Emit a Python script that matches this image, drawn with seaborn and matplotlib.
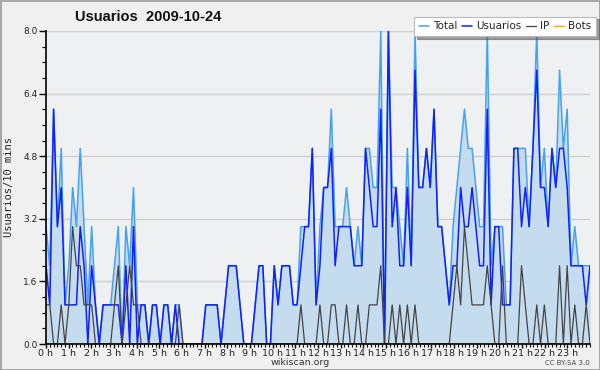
import numpy as np
import pandas as pd
import matplotlib
matplotlib.use("Agg")
import matplotlib.pyplot as plt
import seaborn as sns
from matplotlib.ticker import MultipleLocator, FixedLocator, FormatStrFormatter

# ---- data (values per 10 minutes, 144 slots) ----
usuarios = [2, 1, 6, 3, 4, 1, 1, 1, 1, 3,
            2, 0, 2, 1, 0, 1, 1, 1, 1, 1,
            0, 2, 0, 3, 0, 1, 1, 0, 1, 1,
            0, 1, 1, 0, 1, 0, 0, 0, 0, 0,
            0, 0, 1, 1, 1, 1, 0, 1, 2, 2,
            2, 1, 0, 0, 0, 1, 2, 2, 0, 0,
            2, 1, 2, 2, 2, 1, 1, 2, 3, 3,
            5, 1, 2, 4, 4, 5, 2, 3, 3, 3,
            3, 2, 2, 2, 5, 4, 3, 3, 6, 0,
            8, 3, 4, 2, 2, 4, 2, 7, 4, 4,
            5, 4, 6, 3, 3, 2, 1, 2, 2, 4,
            3, 3, 4, 3, 2, 2, 6, 1, 3, 3,
            1, 1, 1, 5, 5, 3, 4, 3, 5, 7,
            4, 4, 3, 5, 4, 5, 5, 4, 2, 2,
            2, 2, 1, 2]
ip = [1, 1, 0, 0, 1, 0, 1, 3, 2, 2,
      1, 1, 1, 0, 0, 0, 0, 0, 1, 2,
      0, 1, 2, 1, 1, 0, 0, 0, 0, 0,
      0, 0, 0, 0, 0, 1, 0, 0, 0, 0,
      0, 0, 0, 0, 0, 0, 0, 0, 0, 0,
      0, 0, 0, 0, 0, 0, 0, 0, 0, 0,
      0, 0, 0, 0, 0, 0, 0, 1, 0, 0,
      0, 0, 1, 0, 0, 1, 1, 0, 0, 1,
      0, 0, 1, 0, 0, 1, 1, 1, 2, 0,
      0, 1, 0, 1, 0, 1, 0, 1, 0, 0,
      0, 0, 0, 0, 0, 0, 0, 1, 2, 1,
      3, 2, 1, 1, 1, 1, 2, 1, 0, 0,
      2, 0, 0, 0, 0, 2, 1, 0, 0, 1,
      0, 1, 0, 0, 0, 2, 0, 2, 0, 1,
      0, 0, 1, 0]
total = [3, 2, 6, 3, 5, 1, 2, 4, 3, 5,
         3, 1, 3, 1, 0, 1, 1, 1, 2, 3,
         0, 3, 2, 4, 1, 1, 1, 0, 1, 1,
         0, 1, 1, 0, 1, 1, 0, 0, 0, 0,
         0, 0, 1, 1, 1, 1, 0, 1, 2, 2,
         2, 1, 0, 0, 0, 1, 2, 2, 0, 0,
         2, 1, 2, 2, 2, 1, 1, 3, 3, 3,
         5, 1, 3, 4, 4, 6, 3, 3, 3, 4,
         3, 2, 3, 2, 5, 5, 4, 4, 8, 0,
         8, 4, 4, 3, 2, 5, 2, 8, 4, 4,
         5, 4, 6, 3, 3, 2, 1, 3, 4, 5,
         6, 5, 5, 4, 3, 3, 8, 2, 3, 3,
         3, 1, 1, 5, 5, 5, 5, 3, 5, 8,
         4, 5, 3, 5, 4, 7, 5, 6, 2, 3,
         2, 2, 2, 2]
bots = [0] * 144

hour_labels = [f"{h} h" for h in range(24)]
y_ticks = [0.0, 1.6, 3.2, 4.8, 6.4, 8.0]

n = len(total)
hours = np.arange(n) * 24.0 / (n - 1)

df = pd.DataFrame({"hour": hours, "Total": total, "Usuarios": usuarios,
                   "IP": ip, "Bots": bots})

# ---- style ----
sns.set_theme(style="white")
plt.rcParams["font.family"] = ["DejaVu Sans"]

c_total = "#45a2f2"
c_fill = "#c5dcef"
c_user = "#1020ff"
c_ip = "#444444"
c_bots = "#ffa000"

fig = plt.figure(figsize=(6, 3.7), dpi=100, facecolor="#f0f0f0",
                 edgecolor="#a8a8a8", linewidth=2)
ax = fig.add_axes([46 / 600, 1 - 344 / 370, 544 / 600, 313 / 370])
ax.set_facecolor("#eef0f2")

# grid lines
for yv in y_ticks[1:]:
    ax.axhline(yv, color="#cfcfcf", lw=1.0, zorder=0)

ax.fill_between(df["hour"], 0, df["Total"], color=c_fill, lw=0, zorder=1)
sns.lineplot(data=df, x="hour", y="Bots", color=c_bots, lw=1.0, ax=ax,
             label="Bots", zorder=1.5)
sns.lineplot(data=df, x="hour", y="Total", color=c_total, lw=1.1, ax=ax,
             label="Total", zorder=2)
sns.lineplot(data=df, x="hour", y="Usuarios", color=c_user, lw=1.1, ax=ax,
             label="Usuarios", zorder=3)
sns.lineplot(data=df, x="hour", y="IP", color=c_ip, lw=0.9, ax=ax,
             label="IP", zorder=4)

ax.set_xlim(0, 24)
ax.set_ylim(0, 8)
ax.set_xlabel("")
ax.set_ylabel("")

for s in ["top", "right"]:
    ax.spines[s].set_visible(False)
for s in ["left", "bottom"]:
    ax.spines[s].set_color("black")
    ax.spines[s].set_linewidth(1.2)
    ax.spines[s].set_zorder(10)

ax.xaxis.set_major_locator(FixedLocator(list(range(24))))
ax.set_xticklabels(hour_labels, fontsize=6.8, color="#222222")
ax.xaxis.set_minor_locator(MultipleLocator(24 / 144))
ax.yaxis.set_major_locator(FixedLocator(y_ticks))
ax.yaxis.set_major_formatter(FormatStrFormatter("%.1f"))
ax.yaxis.set_minor_locator(MultipleLocator(0.4))
ax.tick_params(axis="both", which="both", direction="out", color="black",
               bottom=True, left=True)
ax.tick_params(axis="x", which="major", length=3, width=1, pad=0.5)
ax.tick_params(axis="x", which="minor", length=2.5, width=0.8)
ax.tick_params(axis="y", which="major", length=5, width=1, pad=1,
               labelsize=6.5, labelcolor="#222222")
ax.tick_params(axis="y", which="minor", length=3, width=0.8)

# legend
handles, labels = ax.get_legend_handles_labels()
order = ["Total", "Usuarios", "IP", "Bots"]
hmap = dict(zip(labels, handles))
leg = fig.legend([hmap[k] for k in order], order, ncol=4,
                 loc="upper right", bbox_to_anchor=(0.993, 0.955),
                 fontsize=7.5, frameon=True, fancybox=False, shadow=True,
                 handlelength=1.0, handletextpad=0.35, columnspacing=0.45,
                 borderpad=0.45, borderaxespad=0.0)
leg.get_frame().set_edgecolor("#bbbbbb")
leg.get_frame().set_linewidth(0.8)
leg.get_frame().set_facecolor("white")
ax.get_legend().remove()

# texts
fig.text(75 / 600, 1 - 17 / 370, "Usuarios  2009-10-24", fontsize=10.5,
         fontweight="bold", family="Liberation Sans", va="center",
         ha="left", color="#111111")
fig.text(9 / 600, 1 - 187 / 370, "Usuarios/10 mins", rotation=90,
         fontsize=7.5, family="DejaVu Sans Mono", va="center", ha="center",
         color="#222222")
fig.text(0.5, 1 - 362.5 / 370, "wikiscan.org", fontsize=6.8, ha="center",
         va="center", color="#333333")
fig.text(590 / 600, 1 - 363 / 370, "CC BY-SA 3.0", fontsize=5, ha="right",
         va="center", color="#444444")

fig.savefig("out.png", dpi=100, facecolor=fig.get_facecolor(),
            edgecolor=fig.get_edgecolor())
